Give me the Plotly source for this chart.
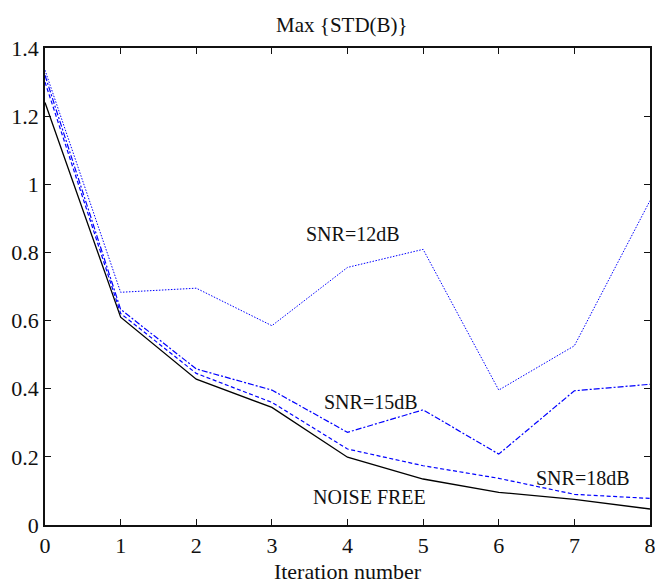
import plotly.graph_objects as go

iterations = [0, 1, 2, 3, 4, 5, 6, 7, 8]
noise_free = [1.24, 0.61, 0.428, 0.345, 0.199, 0.135, 0.096, 0.075, 0.047]
snr18 = [1.30, 0.621, 0.445, 0.36, 0.223, 0.174, 0.137, 0.090, 0.078]
snr15 = [1.32, 0.633, 0.458, 0.396, 0.272, 0.338, 0.208, 0.394, 0.413]
snr12 = [1.335, 0.683, 0.695, 0.585, 0.756, 0.809, 0.396, 0.526, 0.952]

labels = ["SNR=12dB", "SNR=15dB", "SNR=18dB", "NOISE FREE"]
label_x = [4.07, 4.31, 7.11, 4.29]
label_y = [0.854, 0.362, 0.139, 0.083]

FONT = "Liberation Serif, Times New Roman, serif"

fig = go.Figure()
fig.add_trace(go.Scatter(x=iterations, y=snr12, mode="lines",
                         line=dict(color="#0000ff", width=1, dash="1.5px,1.5px")))
fig.add_trace(go.Scatter(x=iterations, y=snr15, mode="lines",
                         line=dict(color="#0000ff", width=1.2, dash="6px,2px,2px,2px")))
fig.add_trace(go.Scatter(x=iterations, y=snr18, mode="lines",
                         line=dict(color="#0000ff", width=1.2, dash="4px,2.5px")))
fig.add_trace(go.Scatter(x=iterations, y=noise_free, mode="lines",
                         line=dict(color="#000000", width=1.3)))

for t, x, y in zip(labels, label_x, label_y):
    fig.add_annotation(x=x, y=y, text=t, showarrow=False,
                       font=dict(family=FONT, size=20, color="#111111"))

axis_common = dict(showgrid=False, zeroline=False, showline=True, linecolor="#111111",
                   linewidth=1.5, mirror="ticks", ticks="inside", ticklen=6,
                   tickcolor="#111111", tickwidth=1.2, automargin=False,
                   ticklabeloverflow="allow",
                   tickfont=dict(family=FONT, size=22, color="#111111"))

fig.update_layout(
    width=655, height=587,
    margin=dict(l=45, r=5, t=48, b=62, autoexpand=False),
    paper_bgcolor="white", plot_bgcolor="white",
    font=dict(family=FONT),
    showlegend=False,
    title=dict(text="Max {STD(B)}", x=0.522, xanchor="center", y=0.958, yanchor="middle",
               font=dict(family=FONT, size=21, color="#111111")),
    xaxis=dict(range=[0, 8], tickvals=iterations, ticktext=[str(i) for i in iterations],
               ticklabelstandoff=0,
               title=dict(text="Iteration number", standoff=6,
                          font=dict(family=FONT, size=22, color="#111111")),
               **axis_common),
    yaxis=dict(range=[0, 1.4], tickvals=[0, 0.2, 0.4, 0.6, 0.8, 1.0, 1.2, 1.4],
               ticktext=["0", "0.2", "0.4", "0.6", "0.8", "1", "1.2", "1.4"],
               **axis_common),
)

fig.write_html("out.html")
